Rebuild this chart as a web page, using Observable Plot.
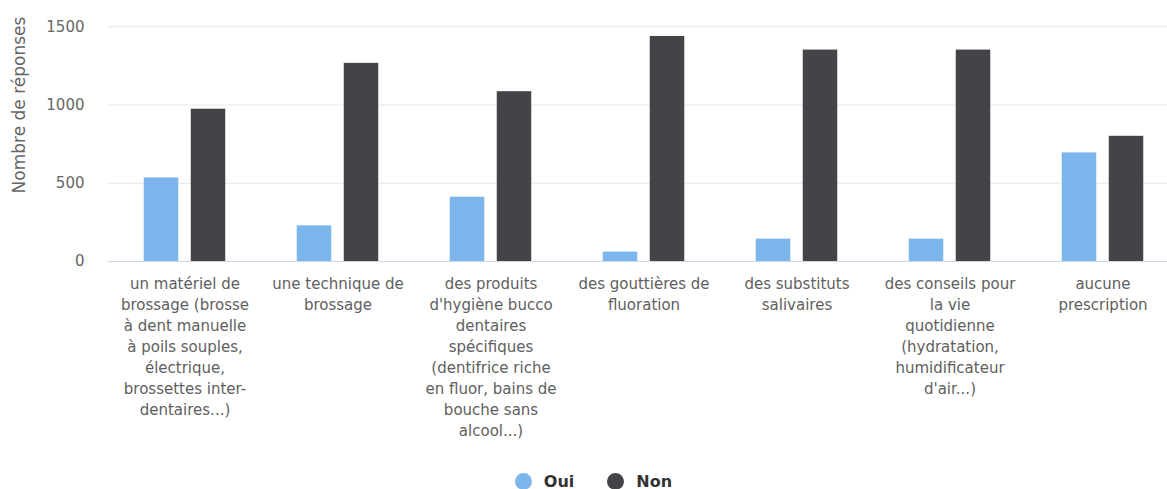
<!DOCTYPE html>
<html>
<head>
<meta charset="utf-8">
<script src="https://cdn.jsdelivr.net/npm/d3@7"></script>
<script src="https://cdn.jsdelivr.net/npm/@observablehq/plot@0.6"></script>
<style>
  html, body { margin: 0; padding: 0; background: #fff; overflow: hidden; }
  #chart svg { display: block; }
  .legend { display: flex; justify-content: center; align-items: center; height: 32px; padding-left: 20px;
            font-family: "DejaVu Sans", sans-serif; font-size: 16px; font-weight: bold; color: #333; }
  .legend .item { display: flex; align-items: center; }
  .legend .dot { width: 17px; height: 17px; border-radius: 50%; margin-right: 12px; }
  .legend .item + .item { margin-left: 33px; }
</style>
</head>
<body>
<div id="chart"></div>
<div class="legend" id="legend"></div>
<script>
const categories = [
  "un matériel de brossage (brosse à dent manuelle à poils souples, électrique, brossettes inter-dentaires...)",
  "une technique de brossage",
  "des produits d'hygiène bucco dentaires spécifiques (dentifrice riche en fluor, bains de bouche sans alcool...)",
  "des gouttières de fluoration",
  "des substituts salivaires",
  "des conseils pour la vie quotidienne (hydratation, humidificateur d'air...)",
  "aucune prescription"
];
const tickLabels = [
  "un matériel de\nbrossage (brosse\nà dent manuelle\nà poils souples,\nélectrique,\nbrossettes inter-\ndentaires...)",
  "une technique de\nbrossage",
  "des produits\nd'hygiène bucco\ndentaires\nspécifiques\n(dentifrice riche\nen fluor, bains de\nbouche sans\nalcool...)",
  "des gouttières de\nfluoration",
  "des substituts\nsalivaires",
  "des conseils pour\nla vie\nquotidienne\n(hydratation,\nhumidificateur\nd'air...)",
  "aucune\nprescription"
];
const seriesNames = ["Oui", "Non"];
const seriesColors = ["#7cb5ec", "#434348"];
const oui = [534, 228, 411, 60, 143, 143, 694];
const non = [973, 1266, 1085, 1438, 1351, 1351, 800];
const yTicks = [0, 500, 1000, 1500];

const ouiData = categories.map((c, i) => ({category: c, value: oui[i]}));
const nonData = categories.map((c, i) => ({category: c, value: non[i]}));

const plot = Plot.plot({
  width: 1167,
  height: 465,
  marginTop: -52,
  marginBottom: 204,
  marginLeft: 108,
  marginRight: 0,
  style: {fontFamily: "DejaVu Sans, sans-serif", fontSize: "15px", background: "#fff"},
  x: {domain: categories, range: [106.5, 1181], padding: 0},
  y: {domain: [0, 2000]},
  marks: [
    Plot.gridY(yTicks.filter(d => d > 0), {stroke: "#e6e6e6", strokeOpacity: 1}),
    Plot.barY(ouiData, {x: "category", y: "value", fill: seriesColors[0], insetLeft: 35.75, insetRight: 82.75}),
    Plot.barY(nonData, {x: "category", y: "value", fill: seriesColors[1], insetLeft: 82.75, insetRight: 35.75}),
    Plot.ruleY([0], {stroke: "#ccd6eb"}),
    Plot.axisY({ticks: yTicks, tickFormat: d => String(d), tickSize: 0, tickPadding: 24, fill: "#666", fontSize: 15,
      label: "Nombre de réponses", labelAnchor: "center", labelOffset: 96, labelArrow: "none"}),
    Plot.axisX({tickSize: 0, tickPadding: 13, fill: "#606060", fontSize: 15, lineHeight: 1.4,
      tickFormat: d => tickLabels[categories.indexOf(d)], label: null})
  ]
});
document.getElementById("chart").appendChild(plot);

plot.querySelectorAll("text").forEach(t => {
  if (t.textContent === "Nombre de réponses") { t.setAttribute("font-size", "17"); t.setAttribute("fill", "#666"); }
});

const legend = document.getElementById("legend");
seriesNames.forEach((name, i) => {
  const item = document.createElement("div");
  item.className = "item";
  item.innerHTML = `<span class="dot" style="background:${seriesColors[i]}"></span><span>${name}</span>`;
  legend.appendChild(item);
});
</script>
</body>
</html>
